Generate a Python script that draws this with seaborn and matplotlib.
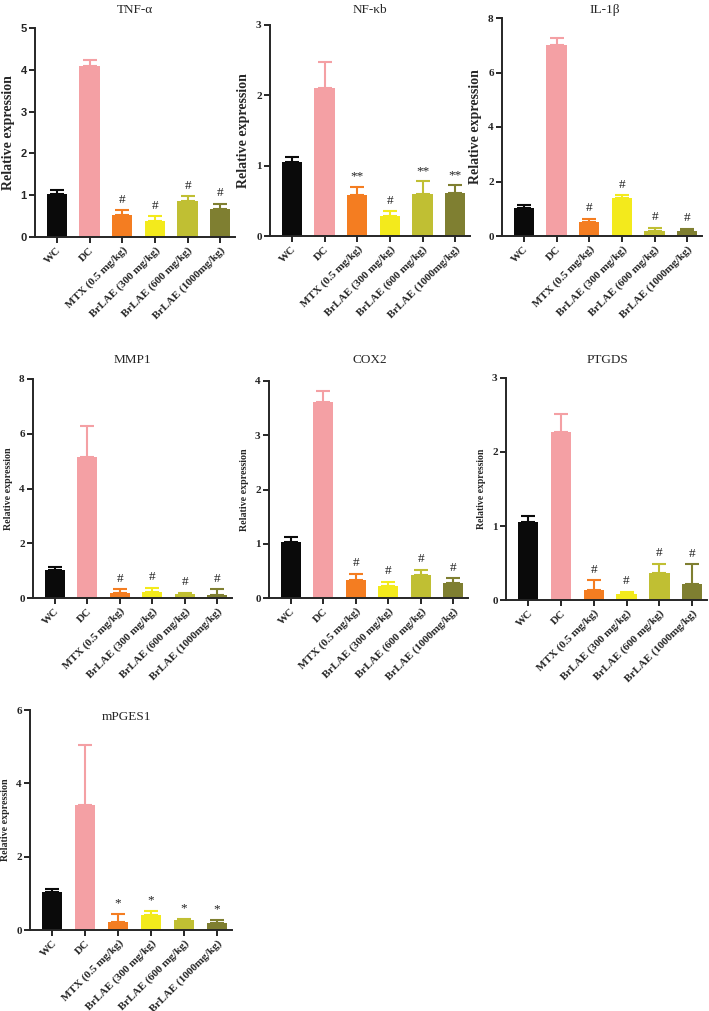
import numpy as np
import matplotlib
matplotlib.use("Agg")
import matplotlib.pyplot as plt
import seaborn as sns

groups = ["WC", "DC", "MTX (0.5 mg/kg)", "BrLAE (300 mg/kg)",
          "BrLAE (600 mg/kg)", "BrLAE (1000mg/kg)"]
colors = ["#0a0a0a", "#f4a0a4", "#f47d21", "#f3ea1c", "#c0bf33", "#7f7f31"]

tnf_mean = [1.03, 4.08, 0.53, 0.38, 0.85, 0.67]
tnf_sd = [0.09, 0.15, 0.12, 0.12, 0.12, 0.13]
tnf_sig = ["", "", "#", "#", "#", "#"]

nfkb_mean = [1.05, 2.10, 0.58, 0.29, 0.60, 0.61]
nfkb_sd = [0.08, 0.37, 0.12, 0.06, 0.18, 0.11]
nfkb_sig = ["", "", "**", "#", "**", "**"]

il1b_mean = [1.02, 7.00, 0.50, 1.38, 0.20, 0.20]
il1b_sd = [0.10, 0.28, 0.13, 0.12, 0.10, 0.07]
il1b_sig = ["", "", "#", "#", "#", "#"]

mmp1_mean = [1.03, 5.15, 0.17, 0.22, 0.14, 0.12]
mmp1_sd = [0.10, 1.15, 0.15, 0.15, 0.05, 0.20]
mmp1_sig = ["", "", "#", "#", "#", "#"]

cox2_mean = [1.04, 3.62, 0.34, 0.22, 0.42, 0.27]
cox2_sd = [0.09, 0.19, 0.11, 0.08, 0.10, 0.10]
cox2_sig = ["", "", "#", "#", "#", "#"]

ptgds_mean = [1.05, 2.27, 0.14, 0.08, 0.36, 0.21]
ptgds_sd = [0.08, 0.25, 0.13, 0.03, 0.13, 0.27]
ptgds_sig = ["", "", "#", "#", "#", "#"]

mpges_mean = [1.03, 3.40, 0.22, 0.42, 0.26, 0.19]
mpges_sd = [0.10, 1.65, 0.23, 0.10, 0.05, 0.08]
mpges_sig = ["", "", "*", "*", "*", "*"]

W, H = 709, 1011
sns.set_style("ticks")
fig = plt.figure(figsize=(W / 100, H / 100), dpi=100)

SERIF = "Liberation Serif"
SANS = "Liberation Sans"

# (title, means, sds, marks, ymax, ystep, axes box px (l, t, r, b), ylabel size, title pos px, ytick font)
panels = [
    ("TNF-α", tnf_mean, tnf_sd, tnf_sig, 5, 1, (35, 28, 235, 237), 10, (135, 10), SANS),
    ("NF-κb", nfkb_mean, nfkb_sd, nfkb_sig, 3, 1, (270, 25, 470, 236), 10, (370, 10), SERIF),
    ("IL-1β", il1b_mean, il1b_sd, il1b_sig, 8, 2, (502, 18, 702, 236), 10, (605, 10), SERIF),
    ("MMP1", mmp1_mean, mmp1_sd, mmp1_sig, 8, 2, (33, 379, 232, 598), 7.2, (132, 360), SERIF),
    ("COX2", cox2_mean, cox2_sd, cox2_sig, 4, 1, (269, 381, 468, 598), 7.2, (370, 360), SERIF),
    ("PTGDS", ptgds_mean, ptgds_sd, ptgds_sig, 3, 1, (506, 378, 707, 600), 7.0, (607, 360), SERIF),
    ("mPGES1", mpges_mean, mpges_sd, mpges_sig, 6, 2, (30, 710, 232, 930), 7.2, (127, 717), SERIF),
]

for title, means, sds, marks, ymax, ystep, box, ylsize, tpos, tickfont in panels:
    l, t, r, b = box
    ax = fig.add_axes([l / W, 1 - b / H, (r - l) / W, (b - t) / H])
    x = np.arange(len(groups))
    sns.barplot(x=x, y=means, hue=x, palette=colors, legend=False,
                width=0.62, errorbar=None, ax=ax, saturation=1, linewidth=0)
    for i in range(len(groups)):
        ax.errorbar(x[i], means[i], yerr=[[0], [sds[i]]], fmt="none",
                    ecolor=colors[i], elinewidth=1.5, capsize=5, capthick=1.5)
        if marks[i]:
            ax.text(x[i], means[i] + sds[i] + ymax * 0.02, marks[i],
                    ha="center", va="bottom", fontsize=9.5, family=SERIF,
                    color="#222222")
    ax.set_xlim(-0.67, 5.45)
    ax.set_ylim(0, ymax)
    ticks = np.arange(0, ymax + 0.01, ystep)
    ax.set_yticks(ticks)
    ax.set_yticklabels([f"{v:g}" for v in ticks],
                       fontsize=8, fontweight="bold", family=tickfont)
    ax.set_xticks(x)
    ax.set_xticklabels(groups, rotation=45, ha="right", rotation_mode="anchor",
                       fontsize=8, fontweight="bold", family=SERIF)
    ax.set_ylabel("Relative expression", fontsize=ylsize, fontweight="bold",
                  family=SERIF, labelpad=4)
    ax.set_xlabel("")
    fig.text(tpos[0] / W, 1 - tpos[1] / H, title, ha="center", va="center",
             fontsize=9.5, family=SERIF)
    sns.despine(ax=ax)
    for s in ("left", "bottom"):
        ax.spines[s].set_linewidth(1.4)
    ax.tick_params(width=1.4, length=4, pad=2)

fig.savefig("out.png", dpi=100)
